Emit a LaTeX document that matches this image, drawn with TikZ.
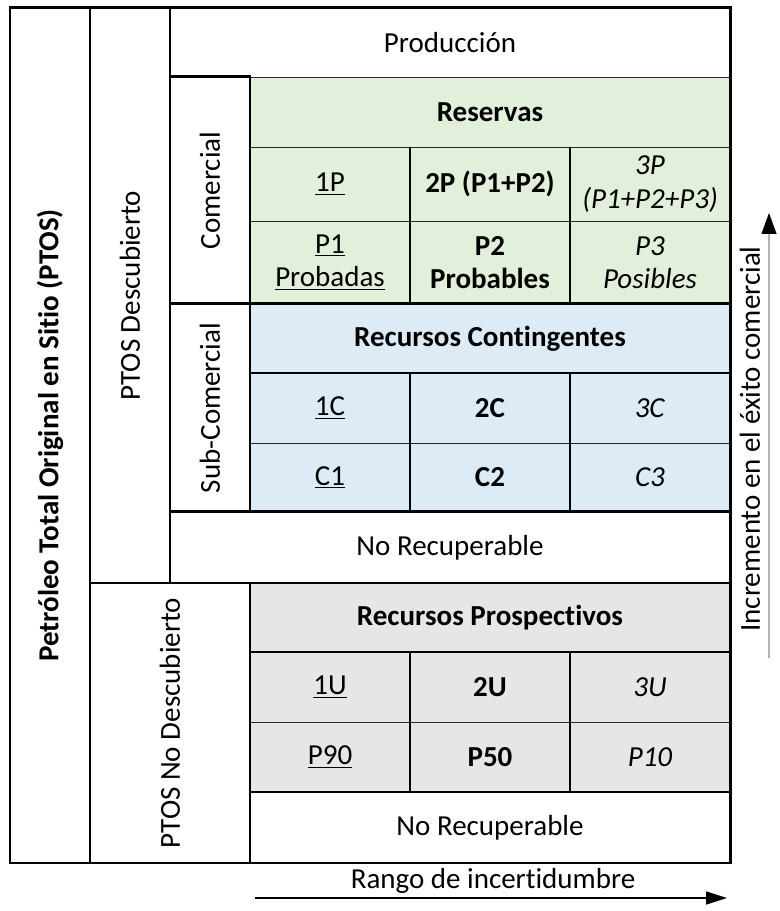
\documentclass[tikz,border=0pt]{standalone}
\usepackage{fontspec}
\setmainfont[Ligatures=NoCommon]{Carlito}
\usepackage{tikz}
\usetikzlibrary{arrows.meta}
\usepackage{xcolor}
\definecolor{verde}{HTML}{E2EFDA}
\definecolor{azul}{HTML}{DDEBF7}
\definecolor{gris}{HTML}{E7E6E6}

\begin{document}
\begin{tikzpicture}[node distance=3.2cm,
	every node/.style={font=\fontsize{16.5}{19}\selectfont},
	celda/.style={draw=black!85, line width=0.5pt, rectangle, inner sep=0pt, align=center, minimum width=3.2cm},
	grueso/.style={line width=1.2pt}]
	\useasboundingbox (0,0) rectangle (15.58,18.22);

	\node[celda, rotate=90, minimum width=17.1cm, minimum height=1.6cm] (ptos) at (1.0,9.51) {\textbf{Petróleo Total Original en Sitio (PTOS)}};
	\node[celda, rotate=90, minimum width=11.5cm, minimum height=1.6cm] (desc) at (2.6,12.31) {PTOS Descubierto};
	\node[celda, rotate=90, minimum width=5.6cm, minimum height=3.2cm] (nodesc) at (3.4,3.76) {PTOS No Descubierto};
	\node[celda, rotate=90, minimum width=4.54cm, minimum height=1.6cm] (com) at (4.2,14.41) {Comercial};
	\node[celda, rotate=90, minimum width=4.16cm, minimum height=1.6cm] (subcom) at (4.2,10.06) {Sub-Comercial};

	\node[celda, minimum width=11.2cm, minimum height=1.38cm] (prod) at (9.0,17.37) {Producción};

	% reservas
	\node[celda, fill=verde, minimum width=9.6cm, minimum height=1.4cm] (res) at (9.8,15.98) {\textbf{Reservas}};
	\node[celda, fill=verde, minimum height=1.48cm] (unoP) at (6.6,14.54) {\underline{1P}};
	\node[celda, fill=verde, minimum height=1.48cm, right of=unoP] (dosP) {\textbf{2P (P1+P2)}};
	\node[celda, fill=verde, minimum height=1.48cm, right of=dosP] (tresP) {\textit{3P}\\\textit{(P1+P2+P3)}};
	\node[celda, fill=verde, minimum height=1.66cm] (pUno) at (6.6,12.97) {\underline{P1}\\\underline{Probadas}};
	\node[celda, fill=verde, minimum height=1.66cm, right of=pUno] (pDos) {\textbf{P2}\\\textbf{Probables}};
	\node[celda, fill=verde, minimum height=1.66cm, right of=pDos] (pTres) {\textit{P3}\\\textit{Posibles}};

	% contingentes
	\node[celda, fill=azul, minimum width=9.6cm, minimum height=1.38cm] (cont) at (9.8,11.45) {\textbf{Recursos Contingentes}};
	\node[celda, fill=azul, minimum height=1.4cm] (unoC) at (6.6,10.06) {\underline{1C}};
	\node[celda, fill=azul, minimum height=1.4cm, right of=unoC] (dosC) {\textbf{2C}};
	\node[celda, fill=azul, minimum height=1.4cm, right of=dosC] (tresC) {\textit{3C}};
	\node[celda, fill=azul, minimum height=1.38cm] (cUno) at (6.6,8.67) {\underline{C1}};
	\node[celda, fill=azul, minimum height=1.38cm, right of=cUno] (cDos) {\textbf{C2}};
	\node[celda, fill=azul, minimum height=1.38cm, right of=cDos] (cTres) {\textit{C3}};

	\node[celda, minimum width=11.2cm, minimum height=1.42cm] (norecA) at (9.0,7.27) {No Recuperable};

	% prospectivos
	\node[celda, fill=gris, minimum width=9.6cm, minimum height=1.38cm] (prosp) at (9.8,5.87) {\textbf{Recursos Prospectivos}};
	\node[celda, fill=gris, minimum height=1.4cm] (unoU) at (6.6,4.48) {\underline{1U}};
	\node[celda, fill=gris, minimum height=1.4cm, right of=unoU] (dosU) {\textbf{2U}};
	\node[celda, fill=gris, minimum height=1.4cm, right of=dosU] (tresU) {\textit{3U}};
	\node[celda, fill=gris, minimum height=1.4cm] (p90) at (6.6,3.08) {\underline{P90}};
	\node[celda, fill=gris, minimum height=1.4cm, right of=p90] (p50) {\textbf{P50}};
	\node[celda, fill=gris, minimum height=1.4cm, right of=p50] (p10) {\textit{P10}};

	\node[celda, minimum width=9.6cm, minimum height=1.42cm] (norecB) at (9.8,1.67) {No Recuperable};

	% lineas gruesas
	\foreach \n in {ptos,desc,nodesc,com,subcom,cont,norecA,prosp,norecB}
		\draw[grueso] (\n.south west) rectangle (\n.north east);
	\foreach \a/\b in {dosP/pDos,tresP/pTres,dosC/cDos,tresC/cTres,dosU/p50,tresU/p10}
		\draw[grueso] (\a.north west) -- (\b.south west);
	\draw[grueso] (ptos.north east) rectangle (norecB.south east);

	% flechas
	\coordinate (exitoA) at (15.38,5.06);
	\coordinate (exitoB) at (15.38,13.96);
	\draw[gray!60, line width=0.6pt, -{Triangle[length=0.42cm,width=0.3cm,black]}] (exitoA) -- (exitoB);
	\node[rotate=90] (exito) at (15.0,9.44) {Incremento en el éxito comercial};

	\coordinate (rangoA) at (5.1,0.26);
	\coordinate (rangoB) at (14.54,0.26);
	\draw[line width=0.9pt, -{Triangle[length=0.42cm,width=0.26cm]}] (rangoA) -- (rangoB);
	\node (rango) at (9.86,0.60) {Rango de incertidumbre};
\end{tikzpicture}
\end{document}
